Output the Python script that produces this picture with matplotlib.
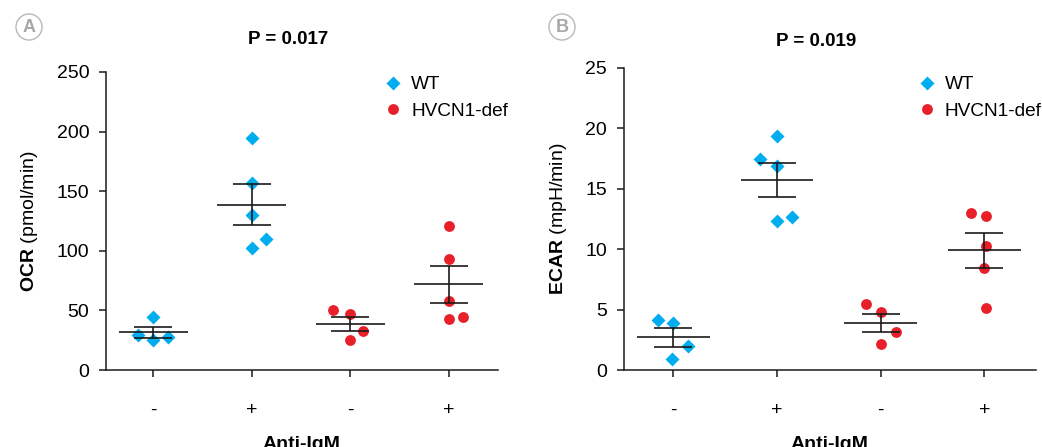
import numpy as np
import matplotlib
matplotlib.use("Agg")
import matplotlib.pyplot as plt

plt.rcParams["font.family"] = ["Liberation Sans", "DejaVu Sans"]
plt.rcParams["mathtext.fontset"] = "custom"
plt.rcParams["mathtext.rm"] = "Liberation Sans"
plt.rcParams["mathtext.bf"] = "Liberation Sans:bold"

BLUE = "#00AEEF"
RED = "#E8202A"

tick_labels = ["-", "+", "-", "+"]
legend_labels = ["WT", "HVCN1-def"]

# OCR values (pmol/min)
wt_ocr_neg = [44.7, 29.4, 25.2, 27.7]
wt_ocr_pos = [194.9, 156.9, 129.8, 110.2, 102.3]
hv_ocr_neg = [50.6, 47.0, 33.0, 25.2]
hv_ocr_pos = [121.1, 93.1, 57.9, 42.5, 44.7]

# ECAR values (mpH/min)
wt_ecar_neg = [4.14, 3.91, 1.99, 0.88]
wt_ecar_pos = [19.38, 17.43, 16.85, 12.63, 12.35]
hv_ecar_neg = [5.46, 4.77, 3.12, 2.18]
hv_ecar_pos = [12.96, 12.76, 10.26, 8.41, 5.13]

# horizontal scatter of the dots within each group
jit_ocr = [[0, -0.15, 0, 0.15], [0, 0, 0, 0.15, 0],
           [-0.17, 0, 0.13, 0], [0, 0, 0, 0, 0.15]]
jit_ecar = [[-0.15, 0, 0.14, -0.01], [0, -0.16, 0, 0.14, 0],
            [-0.14, 0, 0.15, 0], [-0.13, 0.02, 0.02, 0.0, 0.02]]


def panel(ax, groups, jitter, ylim, yticks, ylabel):
    colors = [BLUE, BLUE, RED, RED]
    markers = ["D", "D", "o", "o"]
    sizes = [6.8, 6.8, 7.8, 7.8]
    handles = []
    for i, vals in enumerate(groups):
        vals = np.array(vals)
        xs = i + np.array(jitter[i])
        h, = ax.plot(xs, vals, linestyle="none", marker=markers[i],
                     ms=sizes[i], color=colors[i], mec="none", zorder=3)
        if i in (0, 2):
            handles.append(h)
        m = vals.mean()
        sem = vals.std(ddof=1) / np.sqrt(len(vals))
        ax.hlines(m, i - 0.35, i + 0.35, color="#1a1a1a", lw=1.2, zorder=4)
        ax.errorbar(i, m, yerr=sem, fmt="none", ecolor="#1a1a1a",
                    elinewidth=1.2, capsize=14, capthick=1.2, zorder=4)
    ax.set_xlim(-0.48, 3.5)
    ax.set_ylim(*ylim)
    ax.set_yticks(yticks)
    ax.set_xticks(range(4))
    ax.set_xticklabels(tick_labels)
    for s in ("top", "right"):
        ax.spines[s].set_visible(False)
    for s in ("left", "bottom"):
        ax.spines[s].set_linewidth(1.1)
        ax.spines[s].set_color("#1a1a1a")
    ax.tick_params(axis="y", length=5, width=1.1, pad=7, labelsize=14,
                   color="#1a1a1a")
    ax.tick_params(axis="x", length=5, width=1.1, pad=18, labelsize=14,
                   color="#1a1a1a")
    ax.set_ylabel(ylabel, fontsize=14, labelpad=12)
    ax.set_xlabel("Anti-IgM", fontsize=14, fontweight="bold", labelpad=12)
    return handles


fig = plt.figure(figsize=(10.42, 4.47), dpi=100)
ax1 = fig.add_axes([0.1017, 0.172, 0.376, 0.667])
ax2 = fig.add_axes([0.5986, 0.172, 0.3957, 0.6763])

h1 = panel(ax1, [wt_ocr_neg, wt_ocr_pos, hv_ocr_neg, hv_ocr_pos], jit_ocr,
           (0, 250), [0, 50, 100, 150, 200, 250], r"$\mathbf{OCR}$ (pmol/min)")
h2 = panel(ax2, [wt_ecar_neg, wt_ecar_pos, hv_ecar_neg, hv_ecar_pos], jit_ecar,
           (0, 25), [0, 5, 10, 15, 20, 25], r"$\mathbf{ECAR}$ (mpH/min)")

for h, x in ((h1, 0.369), (h2, 0.881)):
    fig.legend(h, legend_labels, loc="upper left", bbox_to_anchor=(x, 0.83),
               frameon=False, fontsize=13.7, handlelength=0.9,
               handletextpad=0.5, labelspacing=0.5, borderpad=0,
               borderaxespad=0)

fig.text(288 / 1042, 1 - 40 / 447, "P = 0.017", ha="center", va="center",
         fontsize=13.5, fontweight="bold")
fig.text(816 / 1042, 1 - 41 / 447, "P = 0.019", ha="center", va="center",
         fontsize=13.5, fontweight="bold")

for x, letter in ((29, "A"), (562, "B")):
    fig.text(x / 1042, 1 - 27 / 447, letter, ha="center", va="center",
             fontsize=13, fontweight="bold", color="#A8A8A8",
             bbox=dict(boxstyle="circle,pad=0.25", fc="white",
                       ec="#B8B8B8", lw=1.0))

fig.savefig("out.png", dpi=100)
